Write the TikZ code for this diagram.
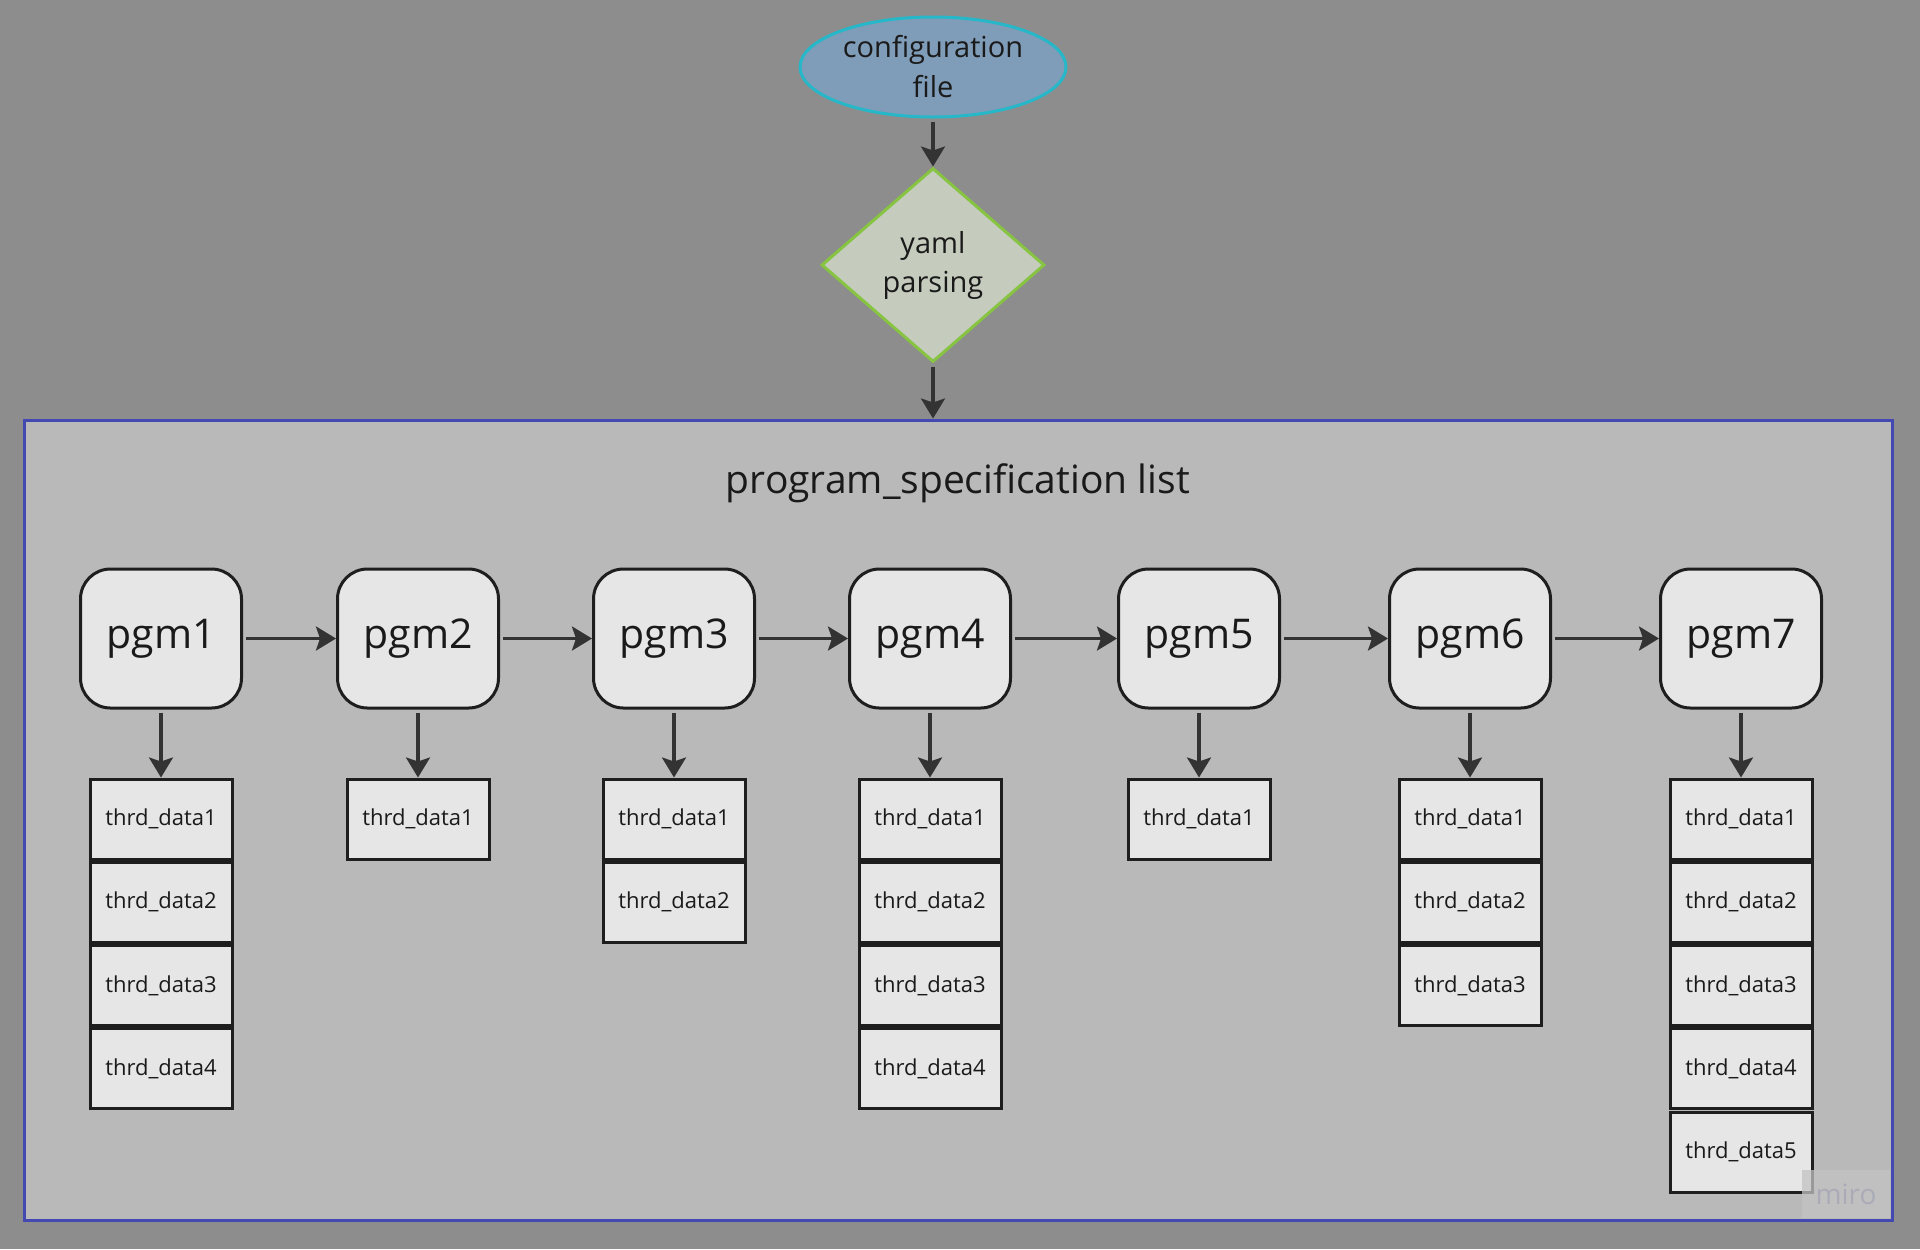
\documentclass[tikz,border=0pt]{standalone}
\usepackage{fontspec}
\setmainfont{Open Sans}
\usetikzlibrary{shapes.geometric,arrows.meta,positioning}
\definecolor{bgc}{HTML}{8D8D8D}
\definecolor{contfill}{HTML}{B9B9B9}
\definecolor{contline}{HTML}{4349B1}
\definecolor{ellfill}{HTML}{7F9CB8}
\definecolor{ellline}{HTML}{26B8C9}
\definecolor{diafill}{HTML}{C5CCBE}
\definecolor{dialine}{HTML}{86C441}
\definecolor{boxfill}{HTML}{E6E6E6}
\definecolor{boxline}{HTML}{1E1E1E}
\definecolor{arrc}{HTML}{333333}
\definecolor{txt}{HTML}{1A1A1A}
\definecolor{wmfill}{HTML}{C3C3C3}
\definecolor{wmtext}{HTML}{ABABB8}
\begin{document}
\begin{tikzpicture}[x=0.5pt,y=-0.5pt,
  every node/.style={text=txt},
  startnode/.style={ellipse, draw=ellline, fill=ellfill, line width=1.5pt, minimum width=133pt, minimum height=50pt, inner sep=0pt, align=center, font=\fontsize{14.5}{20}\selectfont},
  decisionnode/.style={diamond, draw=dialine, fill=diafill, line width=1.5pt, minimum width=111.5pt, minimum height=97pt, inner sep=0pt, align=center, font=\fontsize{14.5}{19.5}\selectfont},
  container/.style={rectangle, draw=contline, fill=contfill, line width=1.5pt, minimum width=933.75pt, minimum height=400pt, inner sep=0pt},
  pgmbox/.style={rectangle, rounded corners=15pt, draw=boxline, fill=boxfill, line width=1.5pt, minimum width=80.5pt, minimum height=69.5pt, inner sep=0pt, font=\fontsize{20.5}{24}\selectfont},
  databox/.style={rectangle, draw=boxline, fill=boxfill, line width=1.5pt, minimum width=71pt, minimum height=40pt, inner sep=0pt, font=\fontsize{11}{13}\selectfont},
  conn/.style={draw=arrc, line width=1.6pt, -{Stealth[length=10pt, width=12pt, inset=2pt]}, shorten <=1.5pt},
]
\fill[bgc] (0,0) rectangle (1920,1249);
\useasboundingbox (0,0) rectangle (1920,1249);

\node[startnode] (cfg) at (933,67) {configuration\\file};
\node[decisionnode] (yaml) at (933,265) {yaml\\parsing};
\node[container] (list) at (958.25,820) {};
\node[font=\fontsize{19.5}{23}\selectfont] (title) at (958,483) {program\_specification list};

\draw[conn] (cfg.south) -- (yaml.north);
\draw[conn] (yaml.south) -- (yaml.south |- list.north);

% pgm boxes
\foreach \i/\x in {1/161,2/418,3/674,4/930,5/1199,6/1470,7/1741}{
  \node[pgmbox] (pgm\i) at (\x,638.5) {pgm\i};
}
\foreach \i/\j in {1/2,2/3,3/4,4/5,5/6,6/7}{
  \draw[conn] (pgm\i.east) -- (pgm\j.west);
}

% data stacks
\foreach \i/\x/\n in {1/161/4,2/418/1,3/674/2,4/930/4,5/1199/1,6/1470/3,7/1741/5}{
  \foreach \k in {1,...,\n}{
    \node[databox] (d\i-\k) at (\x,{819+83.3*(\k-1)}) {thrd\_data\k};
  }
  \draw[conn] (pgm\i.south) -- (d\i-1.north);
}

% watermark
\node[fill=wmfill, fill opacity=0.75, text opacity=1, text=wmtext, minimum width=44pt, minimum height=24pt, inner sep=0pt, font=\fontsize{14}{16}\selectfont] (miro) at (1846,1194) {miro};
\end{tikzpicture}
\end{document}
